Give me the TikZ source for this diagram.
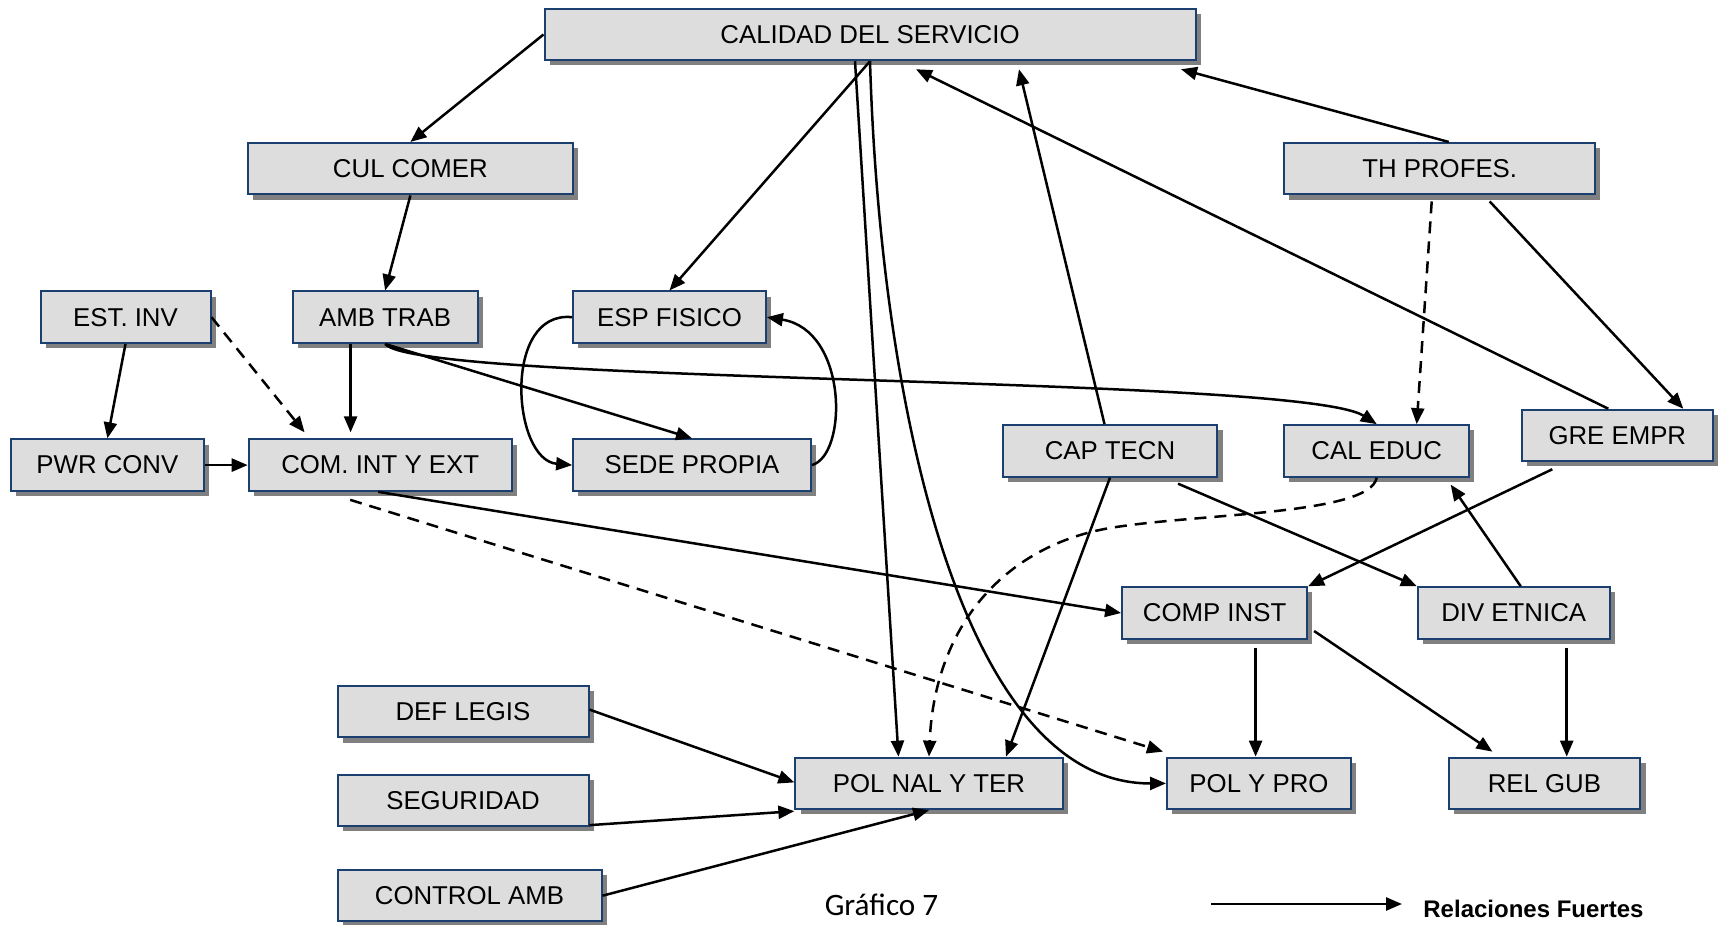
\documentclass[tikz,border=0pt]{standalone}
\usepackage{fontspec}
\setmainfont{Liberation Sans}
\newfontfamily\graffont{Carlito}
\usetikzlibrary{arrows.meta,calc,shadows}
\definecolor{boxline}{HTML}{1B3F6E}
\definecolor{boxfill}{HTML}{DDDDDD}
\definecolor{shadowgray}{HTML}{808080}
\begin{document}
\begin{tikzpicture}[x=0.5pt,y=-0.5pt,
  box/.style={draw=boxline, line width=1pt, fill=boxfill, minimum height=25.75pt,
    inner sep=0pt, font=\fontsize{12.9}{15}\selectfont,
    drop shadow={shadow xshift=2.6pt, shadow yshift=-2.6pt, fill=shadowgray, opacity=1}},
  rel/.style={line width=1.25pt, -{Triangle[length=8pt,width=6.5pt]}},
  weak/.style={rel, dash pattern=on 6pt off 4pt}]
\useasboundingbox (0,0) rectangle (1718,925);

% boxes
\node[box, minimum width=325.5pt] (cal) at (870,34.5) {CALIDAD DEL SERVICIO};
\node[box, minimum width=162.75pt] (cul) at (410.4,168.7) {CUL COMER};
\node[box, minimum width=155.5pt] (th) at (1439.7,168.7) {TH PROFES.};
\node[box, minimum width=85pt] (est) at (125.5,317.2) {EST. INV};
\node[box, minimum width=92.5pt] (amb) at (385.1,317.2) {AMB TRAB};
\node[box, minimum width=96.4pt] (esp) at (669.5,317.2) {ESP FISICO};
\node[box, minimum width=96.4pt] (pwr) at (107.4,465.1) {PWR CONV};
\node[box, minimum width=131.5pt] (com) at (380.2,465.1) {COM. INT Y EXT};
\node[box, minimum width=118.85pt] (sede) at (692,465.1) {SEDE PROPIA};
\node[box, minimum width=107.35pt] (cap) at (1110,450.9) {CAP TECN};
\node[box, minimum width=92.5pt] (caled) at (1376.7,450.9) {CAL EDUC};
\node[box, minimum width=95.35pt] (gre) at (1617.3,435.5) {GRE EMPR};
\node[box, minimum width=92.5pt] (comp) at (1214.6,613) {COMP INST};
\node[box, minimum width=95.9pt] (div) at (1513.7,613) {DIV ETNICA};
\node[box, minimum width=125.5pt] (def) at (463,711.6) {DEF LEGIS};
\node[box, minimum width=125.5pt] (seg) at (463,800.4) {SEGURIDAD};
\node[box, minimum width=132pt] (ctrl) at (469.5,895.7) {CONTROL AMB};
\node[box, minimum width=133.65pt] (polnal) at (929,783.4) {POL NAL Y TER};
\node[box, minimum width=92pt] (polpro) at (1259,783.4) {POL Y PRO};
\node[box, minimum width=95.9pt] (relgub) at (1544.4,783.4) {REL GUB};

% helper points for vertical connectors
\coordinate (ambdown) at ($(amb.south)+(-34.5,0)$);
\coordinate (compdown) at ($(comp.south)+(41,8)$);
\coordinate (divdown) at ($(div.south)+(53,8)$);

% connectors
\draw[rel] (cal.west) -- (cul.north);
\draw[rel] (cul.south) -- (amb.north);
\draw[rel] (cal.south) -- (esp.north);
\draw[rel] ($(cal.south)+(-15,0)$) -- ($(polnal.north)+(-30.5,0)$);
\draw[rel] (cal.south) .. controls (880,400) and (960,784) .. (polpro.west);
\draw[rel] ($(cap.north)+(-5.5,0)$) -- ($(cal.south)+(149,8)$);
\draw[rel] ($(gre.north)+(-9,0)$) -- ($(cal.south)+(46,8)$);
\draw[rel] ($(th.north)+(9,0)$) -- ($(cal.south)+(311,8)$);
\draw[weak] ($(th.south)+(-8,6)$) -- ($(caled.north)+(40,0)$);
\draw[rel] ($(th.south)+(50,6)$) -- ($(gre.north)+(66,0)$);
\draw[rel] (est.south) -- (pwr.north);
\draw[weak] (est.east) -- ($(com.north)+(-75.6,-6)$);
\draw[rel] (ambdown) -- ($(ambdown |- com.north)+(0,-6)$);
\draw[rel] (pwr.east) -- (com.west);
\draw[rel] (amb.south) -- (sede.north);
\draw[rel] (amb.south) .. controls (420,385) and (1300,375) .. (caled.north);
\draw[rel] (esp.west) .. controls (502,310) and (512,460) .. (sede.west);
\draw[rel] (sede.east) .. controls (848,455) and (848,330) .. (esp.east);
\draw[rel] ($(com.south)+(-2,0)$) -- (comp.west);
\draw[weak] ($(com.south)+(-30,8)$) -- ($(polpro.north west)+(-3,-5)$);
\draw[weak] (caled.south) .. controls (1370,515) and (1200,513) .. (1110,528)
  .. controls (1010,545) and (935,620) .. (polnal.north);
\draw[rel] (cap.south) -- ($(polnal.north)+(77,0)$);
\draw[rel] ($(cap.south)+(68,6)$) -- (div.north west);
\draw[rel] ($(gre.south)+(-65,7)$) -- (comp.north east);
\draw[rel] ($(div.north)+(7,0)$) -- ($(caled.south)+(74,7)$);
\draw[rel] (compdown) -- (compdown |- polpro.north);
\draw[rel] ($(comp.east)+(6,18)$) -- ($(relgub.north)+(-52,-5)$);
\draw[rel] (divdown) -- (divdown |- relgub.north);
\draw[rel] ($(def.east)+(0,-2)$) -- ($(polnal.west)+(0,-1)$);
\draw[rel] ($(seg.south east)+(0,-2)$) -- ($(polnal.south west)+(0,1)$);
\draw[rel] (ctrl.east) -- (polnal.south);

% caption and legend
\node[font=\graffont\fontsize{15.6}{18}\selectfont] (graf) at (881.5,905) {Gráfico 7};
\coordinate (lgA) at (1211,904);
\coordinate (lgB) at (1402,904);
\node[anchor=west, inner sep=0pt, font=\bfseries\fontsize{12}{14}\selectfont] (lgtxt) at (1423,909) {Relaciones Fuertes};
\draw[rel] (lgA) -- (lgB);
\end{tikzpicture}
\end{document}
